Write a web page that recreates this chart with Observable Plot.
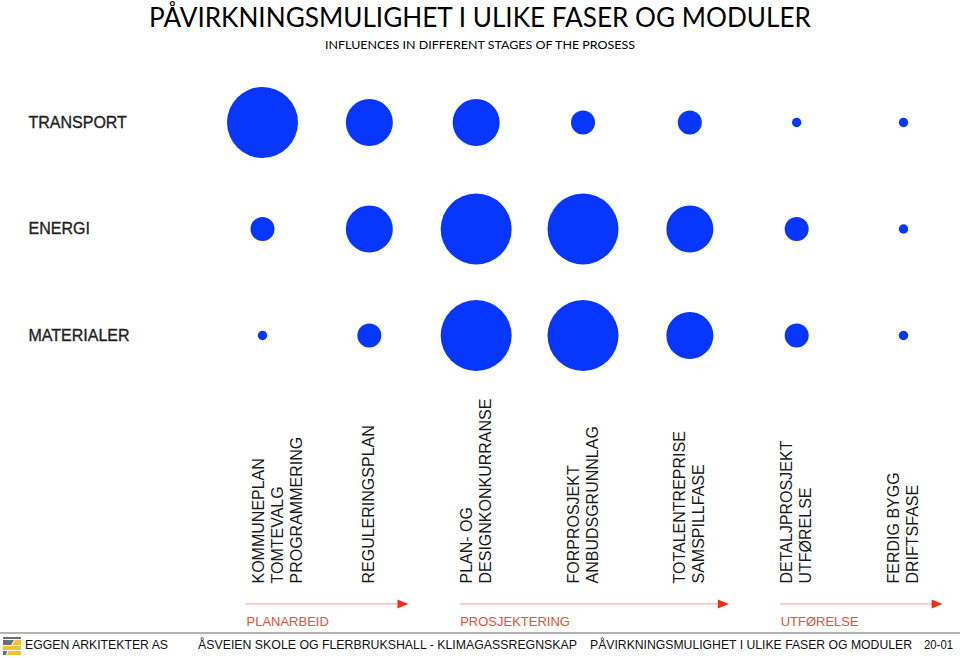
<!DOCTYPE html>
<html><head><meta charset="utf-8">
<script src="https://cdn.jsdelivr.net/npm/d3@7"></script>
<script src="https://cdn.jsdelivr.net/npm/@observablehq/plot@0.6"></script>
<style>
html,body{margin:0;padding:0;background:#fff;}
#page{position:relative;width:960px;height:658px;overflow:hidden;background:#fff;}
#chart{position:absolute;left:0;top:60px;}
svg.overlay{position:absolute;left:0;}
</style></head><body>
<div id="page">
<svg class="overlay" style="top:0" width="960" height="60">
  <text x="480" y="27" text-anchor="middle" font-family="Lato, 'Open Sans', sans-serif" font-size="27" textLength="662" lengthAdjust="spacingAndGlyphs" fill="#000">PÅVIRKNINGSMULIGHET I ULIKE FASER OG MODULER</text>
  <text x="480" y="49" text-anchor="middle" font-family="Lato, 'Open Sans', sans-serif" font-size="12" textLength="310" lengthAdjust="spacingAndGlyphs" fill="#000">INFLUENCES IN DIFFERENT STAGES OF THE PROSESS</text>
</svg>
<div id="chart"></div>
<svg class="overlay" style="top:626px" width="960" height="32">
  <line x1="0" x2="960" y1="7" y2="7" stroke="#9a9a9a" stroke-width="1.5"/>
  <g>
    <polygon points="3,11 21,11 21,13 3,13" fill="#6d6e71"/>
    <polygon points="3,14 14,14 11,19 3,19" fill="#6d6e71"/>
    <polygon points="15,14 21,14 21,19 12,19" fill="#f2c230"/>
    <polygon points="3,20 21,20 21,24 3,24" fill="#f2c230"/>
    <polygon points="3,25 7,25 6,29 3,29" fill="#6d6e71"/>
    <polygon points="8,25 21,25 21,29 7,29" fill="#f2c230"/>
  </g>
  <g font-family="'Liberation Sans', Arial, sans-serif" font-size="12.2" fill="#111" lengthAdjust="spacingAndGlyphs">
    <text x="25" y="23" textLength="143" lengthAdjust="spacingAndGlyphs">EGGEN ARKITEKTER AS</text>
    <text x="198" y="23" textLength="379" lengthAdjust="spacingAndGlyphs">ÅSVEIEN SKOLE OG FLERBRUKSHALL - KLIMAGASSREGNSKAP</text>
    <text x="590" y="23" textLength="322" lengthAdjust="spacingAndGlyphs">PÅVIRKNINGSMULIGHET I ULIKE FASER OG MODULER</text>
    <text x="924" y="23" textLength="29" lengthAdjust="spacingAndGlyphs">20-01</text>
  </g>
</svg>
</div>
<script>
// Modules (rows) and stages (columns)
const modules = ["TRANSPORT", "ENERGI", "MATERIALER"];
const stages = [
  "KOMMUNEPLAN\nTOMTEVALG\nPROGRAMMERING",
  "REGULERINGSPLAN",
  "PLAN- OG\nDESIGNKONKURRANSE",
  "FORPROSJEKT\nANBUDSGRUNNLAG",
  "TOTALENTREPRISE\nSAMSPILLFASE",
  "DETALJPROSJEKT\nUTFØRELSE",
  "FERDIG BYGG\nDRIFTSFASE"
];
// Influence level (1 = lowest, 4 = highest) per stage
const transport  = [4, 3, 3, 2, 2, 1, 1];
const energi     = [2, 3, 4, 4, 3, 2, 1];
const materialer = [1, 2, 4, 4, 3, 2, 1];
// Phases spanning stages (first and last stage index)
const phases     = ["PLANARBEID", "PROSJEKTERING", "UTFØRELSE"];
const phaseFirst = [0, 2, 5];
const phaseLast  = [1, 4, 6];

const levels = [transport, energi, materialer];
const cells = modules.flatMap((m, i) => stages.map((s, j) => ({module: m, row: i, stage: s, col: j, level: levels[i][j]})));
const stageData = stages.map((label, col) => ({label, col}));
const phaseData = phases.map((name, i) => ({name, first: phaseFirst[i], last: phaseLast[i]}));

const arrowHead = {
  draw(ctx, size) {
    const r = Math.sqrt(size / Math.PI);
    ctx.moveTo(r * 1.1, 0);
    ctx.lineTo(-r * 1.1, -r * 0.9);
    ctx.lineTo(-r * 1.1, r * 0.9);
    ctx.closePath();
  }
};

const stageText = {
  x: "col", text: "label", frameAnchor: "bottom", dy: -50, rotate: -90,
  textAnchor: "start", lineAnchor: "middle", lineHeight: 1.19, fontSize: 16, fill: "#1a1a1a"
};

const chart = Plot.plot({
  width: 960, height: 573,
  marginTop: 0, marginRight: 0, marginBottom: 0, marginLeft: 0,
  style: {fontFamily: "'Liberation Sans', Arial, Helvetica, sans-serif", background: "transparent", overflow: "visible"},
  x: {type: "linear", domain: [0, 6], range: [262, 903], axis: null},
  y: {type: "linear", domain: [0, 2], range: [62, 275], axis: null},
  r: {type: "linear", domain: [1, 2, 3, 4], range: [4.7, 12, 23.5, 35.5]},
  marks: [
    Plot.text(modules, {y: (d, i) => i, text: d => d, frameAnchor: "left", textAnchor: "start", dx: 28,
      fontSize: 16, fill: "#222", stroke: "#222", strokeWidth: 0.35}),
    Plot.dot(cells, {x: "col", y: "row", r: "level", fill: "#0636ff"}),
    Plot.text(stageData, {...stageText, filter: d => d.col === 0, dx: 14}),
    Plot.text(stageData, {...stageText, filter: d => d.col !== 0, dx: -1}),
    Plot.ruleY(phaseData, {y: () => 4.52, x1: d => d.first - 0.15, x2: d => d.last + 0.3, stroke: "#f1b3a6", strokeWidth: 1.3}),
    Plot.dot(phaseData, {x: d => d.last + 0.366, y: () => 4.52, r: 5, symbol: arrowHead, fill: "#ee2d1e", dx: -5.5}),
    Plot.text(phaseData, {x: d => d.first - 0.15, text: "name", frameAnchor: "bottom", dy: -8,
      textAnchor: "start", lineAnchor: "bottom", fontSize: 13, fill: "#e8503a"})
  ]
});
document.getElementById("chart").appendChild(chart);
</script>
</body></html>
